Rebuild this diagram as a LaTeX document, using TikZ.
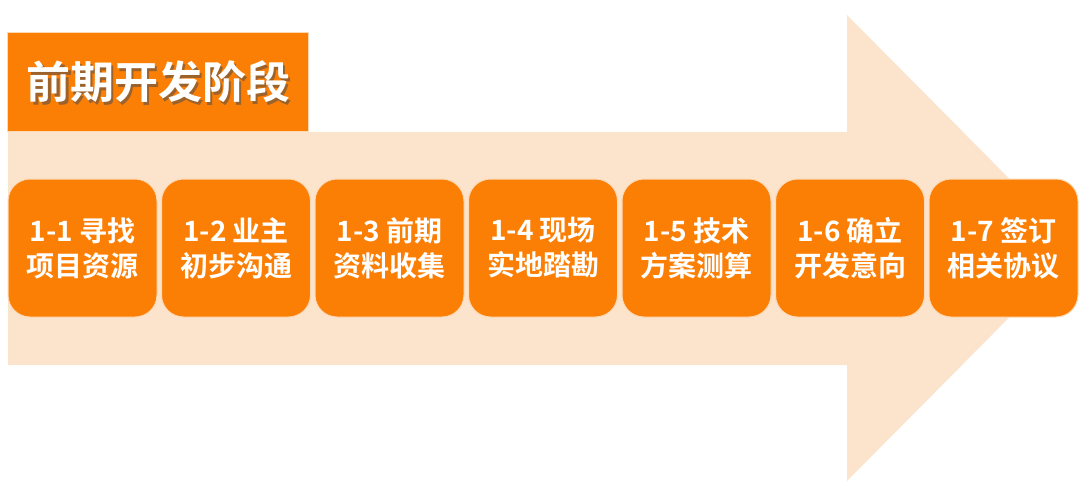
\documentclass[tikz,border=0pt]{standalone}
\usepackage{fontspec}
\setmainfont{Noto Sans CJK SC}[BoldFont={* Bold}]
\newfontfamily\cjkb{Noto Sans CJK SC Bold}
\definecolor{peach}{HTML}{FCE3CC}
\definecolor{orng}{HTML}{FC7F05}
\definecolor{bordr}{HTML}{FDD9B5}
\begin{document}
\begin{tikzpicture}[x=1pt,y=-1pt,
  stepbox/.style={draw=bordr,line width=1pt,fill=orng,rounded corners=22pt,
    minimum width=149pt,minimum height=138pt,inner sep=0pt,
    text=white,align=center,font=\cjkb\fontsize{28}{35}\selectfont}]
\useasboundingbox (0,0) rectangle (1080,493);
\fill[white] (0,0) rectangle (1080,493);
% big arrow
\fill[peach] (8,132) -- (847,132) -- (847,15) -- (1078,248) -- (847,481) -- (847,365) -- (8,365) -- cycle;
% title box
\node[draw=bordr,line width=1pt,fill=orng,minimum width=301pt,minimum height=99pt,inner sep=0pt] (title) at (157.5,81.5) {};
\node[text=black!70,opacity=0.55,font=\cjkb\fontsize{44}{44}\selectfont] (titleshadow) at (161,84.5) {前期开发阶段};
\node[text=white,font=\cjkb\fontsize{44}{44}\selectfont] (titletext) at (159,82) {前期开发阶段};
% steps
\node[stepbox] (s1) at (82.5,248) {1-1 寻找\\项目资源};
\node[stepbox] (s2) at (236,248) {1-2 业主\\初步沟通};
\node[stepbox] (s3) at (389.5,248) {1-3 前期\\资料收集};
\node[stepbox] (s4) at (543,248) {1-4 现场\\实地踏勘};
\node[stepbox] (s5) at (696.5,248) {1-5 技术\\方案测算};
\node[stepbox] (s6) at (850,248) {1-6 确立\\开发意向};
\node[stepbox] (s7) at (1003.5,248) {1-7 签订\\相关协议};
\end{tikzpicture}
\end{document}
